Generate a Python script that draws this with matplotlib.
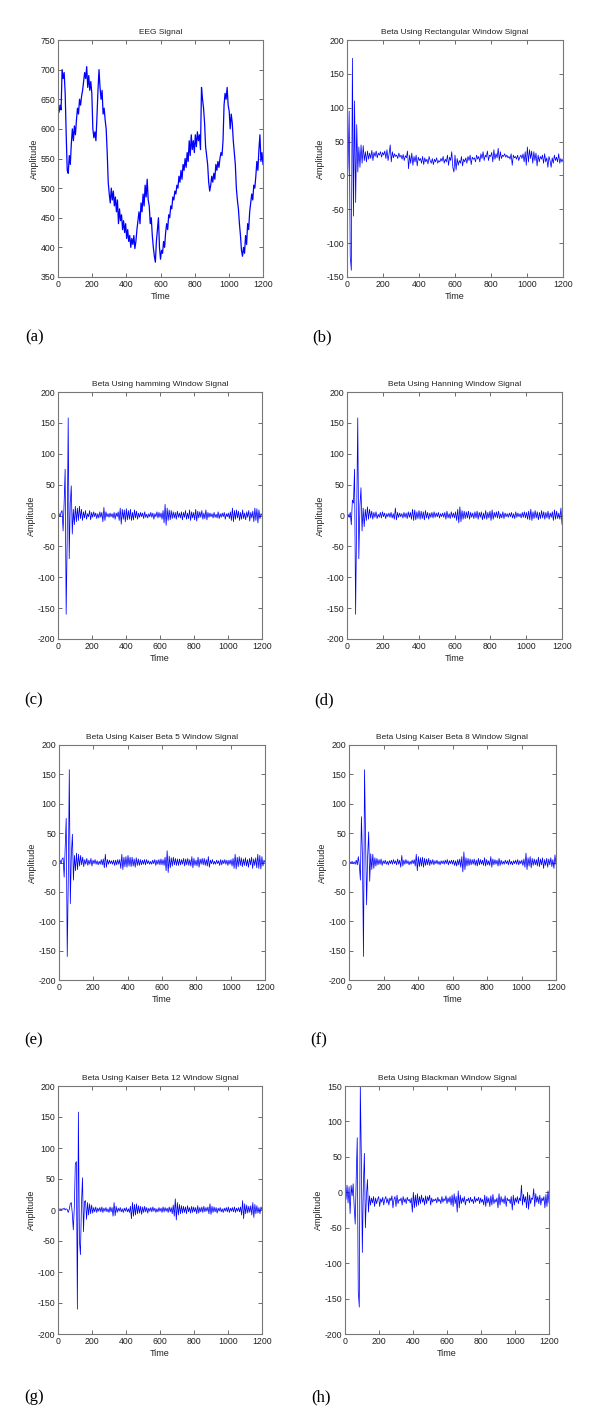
import numpy as np
import matplotlib
matplotlib.use('Agg')
import matplotlib.pyplot as plt

# ------  signal samples (every 6th time step)  ------
eeg = [635, 628, 640, 632, 700, 685, 695, 660, 590, 530, 525, 555, 540, 575, 600, 580, 605, 590, 615, 635,
       625, 650, 640, 655, 665, 680, 695, 685, 705, 670, 690, 665, 680, 660, 600, 585, 595, 580, 620, 665,
       700, 670, 650, 665, 625, 635, 615, 600, 560, 510, 490, 475, 500, 480, 495, 470, 485, 460, 480, 440,
       465, 445, 455, 430, 445, 425, 440, 415, 430, 410, 420, 400, 415, 405, 420, 398, 410, 430, 445, 460,
       440, 475, 460, 490, 470, 505, 485, 515, 480, 470, 440, 450, 420, 400, 385, 375, 410, 430, 450, 400,
       380, 395, 390, 410, 400, 425, 440, 430, 455, 450, 470, 465, 485, 480, 495, 490, 505, 500, 520, 510,
       530, 515, 540, 530, 550, 535, 560, 545, 580, 555, 590, 565, 580, 560, 590, 570, 595, 580, 590, 565,
       670, 650, 635, 610, 570, 555, 540, 510, 495, 505, 520, 510, 525, 515, 540, 530, 545, 535, 550, 560,
       555, 580, 640, 660, 650, 670, 640, 630, 600, 625, 610, 580, 560, 540, 500, 480, 465, 440, 420, 395,
       385, 400, 390, 420, 405, 440, 430, 460, 475, 490, 480, 505, 500, 520, 545, 530, 565, 590, 545, 560,
       540]

rect = [-25, 15, 95, -120, -140, 173, -60, 110, -40, 75, 5, 42, 12, 45, 18, 44, 22, 35, 20, 36,
        24, 33, 25, 37, 22, 34, 28, 36, 26, 33, 30, 35, 27, 34, 30, 36, 25, 38, 22, 32,
        45, 20, 35, 26, 32, 28, 30, 25, 33, 27, 30, 24, 31, 22, 29, 26, 36, 10, 30, 18,
        33, 15, 28, 20, 30, 14, 27, 22, 25, 18, 28, 16, 26, 20, 24, 17, 28, 22, 18, 25,
        16, 24, 20, 26, 18, 22, 20, 25, 21, 28, 18, 24, 20, 30, 15, 27, 22, 35, 12, 5,
        30, 8, 25, 15, 22, 18, 28, 14, 24, 20, 26, 18, 28, 22, 30, 16, 27, 24, 26, 20,
        30, 24, 28, 20, 32, 25, 35, 22, 30, 27, 36, 22, 30, 28, 34, 20, 38, 24, 32, 26,
        40, 22, 35, 25, 30, 28, 32, 27, 30, 26, 28, 24, 32, 15, 30, 26, 28, 24, 30, 22,
        27, 30, 25, 32, 20, 35, 15, 42, 20, 38, 25, 36, 18, 35, 22, 33, 14, 30, 20, 28,
        24, 30, 18, 32, 20, 26, 12, 28, 22, 12, 26, 18, 30, 22, 27, 20, 32, 18, 25, 20,
        24]

hamming = [0, 3, -2, 5, 8, -25, 20, 75, -160, -40, 158, -70, 20, 48, -30, 10, -15, 15, -10, 12,
           -8, 15, -5, 10, -8, 6, -4, 8, -6, 3, -2, 8, -7, 5, -3, 6, -2, 4, -5, 3,
           -4, 6, -3, 5, -10, 13, -8, 6, -2, 3, -3, 4, -2, 3, -4, 5, -6, 4, -2, 6,
           -8, 12, -14, 10, -6, 9, -10, 11, -7, 8, -6, 10, -8, 5, -7, 9, -4, 7, -6, 4,
           -3, 5, -2, 4, -5, 6, -3, 2, -4, 3, -2, 5, -3, 4, -6, 3, -2, 6, -4, 5,
           -3, 4, -6, 8, -12, 18, -16, 12, -8, 9, -7, 8, -5, 6, -4, 5, -6, 7, -3, 4,
           -4, 6, -7, 5, -3, 8, -6, 4, -5, 9, -8, 6, -4, 5, -7, 10, -9, 7, -4, 6,
           -3, 8, -6, 4, -5, 9, -7, 5, -3, 4, -2, 3, -4, 5, -3, 2, -4, 6, -5, 3,
           -3, 4, -2, 5, -6, 3, -2, 4, -5, 6, -8, 12, -10, 8, -6, 9, -4, 7, -8, 5,
           -6, 9, -5, 4, -7, 6, -3, 8, -9, 5, -4, 7, -10, 12, -8, 11, -12, 9, -5, 3,
           0]

hanning = [0, 2, -3, 5, -15, 25, 20, 75, -160, 5, 158, -70, 15, 45, -25, 12, -18, 10, -8, 14,
           -6, 10, -4, 7, -6, 5, -3, 6, -5, 2, -3, 5, -4, 6, -2, 4, -5, 3, -2, 4,
           -3, 5, -4, 3, -6, 12, -7, 5, -3, 4, -2, 3, -4, 5, -3, 4, -5, 6, -3, 5,
           -6, 10, -8, 9, -7, 6, -5, 8, -6, 7, -5, 6, -7, 8, -4, 5, -6, 4, -3, 5,
           -4, 6, -3, 4, -2, 5, -4, 3, -2, 4, -3, 5, -6, 7, -4, 3, -5, 6, -3, 4,
           -4, 6, -8, 10, -12, 14, -10, 8, -6, 7, -5, 6, -4, 7, -6, 5, -3, 4, -5, 6,
           -4, 7, -6, 5, -3, 6, -7, 4, -5, 8, -6, 5, -4, 7, -8, 9, -6, 5, -3, 6,
           -4, 7, -5, 3, -4, 6, -5, 4, -2, 3, -3, 4, -2, 5, -4, 3, -5, 6, -3, 4,
           -2, 3, -4, 5, -3, 6, -4, 5, -6, 7, -7, 10, -8, 6, -5, 8, -4, 6, -7, 5,
           -5, 8, -4, 6, -6, 5, -4, 7, -6, 4, -3, 6, -8, 9, -6, 7, -5, 4, -6, 12,
           -14]

kaiser5 = [0, 4, -2, 6, 8, -25, 25, 75, -160, -30, 158, -70, 15, 48, -30, 12, -14, 16, -12, 14,
           -6, 12, -4, 9, -7, 5, -3, 7, -5, 4, -3, 7, -6, 4, -2, 5, -3, 3, -4, 2,
           -3, 5, -4, 6, -9, 14, -8, 5, -3, 4, -2, 3, -3, 4, -5, 4, -4, 5, -3, 5,
           -10, 14, -12, 9, -7, 10, -8, 12, -6, 9, -7, 9, -6, 6, -8, 8, -5, 6, -5, 5,
           -4, 4, -3, 5, -4, 5, -2, 3, -3, 2, -3, 4, -2, 5, -5, 4, -3, 5, -4, 6,
           -4, 5, -5, 9, -14, 20, -17, 11, -9, 8, -6, 9, -4, 7, -5, 6, -5, 6, -4, 5,
           -3, 7, -6, 6, -4, 7, -5, 5, -6, 10, -9, 7, -5, 4, -6, 9, -8, 6, -3, 7,
           -4, 7, -5, 5, -6, 10, -8, 4, -2, 5, -3, 2, -3, 4, -2, 3, -5, 5, -4, 4,
           -2, 5, -3, 4, -5, 4, -3, 5, -6, 7, -10, 14, -11, 9, -7, 10, -5, 8, -7, 6,
           -5, 8, -6, 5, -8, 7, -4, 9, -10, 6, -5, 8, -9, 14, -10, 12, -11, 10, -6, 4,
           0]

kaiser8 = [0, 1, -1, 2, -2, 1, -3, 4, -4, 10, -5, -30, 78, 10, -160, 158, 40, -72, 10, 52,
           -32, 15, -12, 14, -10, 8, -6, 7, -4, 5, -3, 6, -5, 3, -2, 4, -3, 2, -4, 3,
           -2, 4, -3, 5, -2, 3, -4, 6, -3, 4, -8, 12, -6, 4, -3, 5, -2, 3, -4, 2,
           -3, 4, -2, 5, -6, 14, -14, 10, -7, 8, -6, 9, -8, 7, -5, 6, -4, 7, -5, 4,
           -3, 5, -4, 3, -2, 4, -3, 2, -4, 3, -2, 3, -3, 4, -2, 5, -4, 3, -2, 4,
           -3, 4, -5, 3, -6, 5, -4, 6, -8, 10, -16, 18, -12, 8, -6, 7, -5, 6, -4, 5,
           -3, 6, -5, 4, -6, 7, -4, 5, -3, 4, -5, 8, -6, 5, -4, 3, -5, 10, -8, 6,
           -4, 5, -3, 4, -6, 7, -5, 4, -3, 2, -3, 4, -2, 3, -4, 5, -3, 2, -4, 3,
           -2, 4, -3, 5, -4, 3, -2, 4, -5, 6, -8, 16, -12, 8, -6, 10, -9, 7, -5, 6,
           -4, 5, -6, 9, -7, 6, -4, 8, -10, 5, -5, 7, -8, 6, -4, 8, -7, 5, -10, 13,
           -3]

kaiser12 = [2, 1, 2, 0, 2, 1, 3, 0, 2, 1, -4, 1, 10, 12, -5, -32, 5, 75, 78, -160,
            158, -50, -72, 10, 52, -35, 14, 15, -15, 12, -8, 10, -6, 8, -5, 4, -3, 5, -4, 3,
            -2, 4, -3, 5, -4, 3, -2, 4, -3, 2, -4, 5, -3, 4, -10, 12, -9, 6, -4, 3,
            -2, 4, -3, 2, -4, 3, -2, 4, -3, 2, -4, 6, -14, 12, -10, 9, -8, 10, -6, 7,
            -5, 6, -7, 5, -4, 6, -3, 4, -5, 3, -2, 4, -3, 5, -2, 3, -4, 2, -3, 4,
            -2, 3, -4, 5, -3, 4, -2, 3, -4, 5, -3, 4, -6, 8, -10, 18, -16, 12, -8, 9,
            -6, 7, -5, 6, -4, 5, -6, 7, -3, 4, -5, 6, -4, 5, -3, 4, -6, 7, -5, 4,
            -3, 5, -4, 6, -3, 4, -2, 5, -6, 10, -7, 6, -4, 5, -3, 4, -5, 3, -2, 4,
            -3, 2, -4, 3, -2, 4, -3, 5, -4, 3, -2, 4, -3, 5, -4, 3, -2, 4, -3, 5,
            -8, 15, -14, 10, -6, 8, -5, 6, -4, 7, -8, 12, -12, 9, -6, 7, -5, 4, -6, 5,
            0]

blackman = [5, -10, 10, -15, 8, -30, 10, -5, 12, -20, -45, 20, 77, -140, -162, 150, 50, -85, 10, 55,
            -50, -5, 18, -28, -5, -18, -8, -15, -6, -20, -8, -16, -10, -6, -20, -9, -14, -7, -18, -10,
            -6, -15, -9, -18, -8, -12, -5, -22, -10, -6, -20, -4, -16, -10, -12, -8, -18, -6, -14, -9,
            -16, -7, -12, -10, -15, -8, -28, 0, -22, -4, -20, -2, -18, -6, -16, -4, -14, -8, -18, -5,
            -16, -6, -12, -4, -18, -8, -14, -10, -12, -9, -15, -7, -13, -10, -16, -6, -14, -9, -12, -5,
            -16, -8, -14, -6, -18, -4, -20, -2, -16, -6, -28, 2, -22, -4, -16, -8, -14, -6, -18, -10,
            -12, -8, -15, -7, -13, -10, -16, -6, -14, -9, -12, -7, -16, -8, -14, -10, -18, -4, -20, -6,
            -15, -8, -20, -5, -18, -3, -16, -10, -14, -8, -22, -2, -18, -6, -14, -9, -16, -5, -20, -8,
            -12, -10, -16, -6, -25, -4, -18, -8, -14, -6, -16, -8, -12, 10, -18, -3, -14, -6, -22, 0,
            -24, -4, -16, -8, -10, 5, -20, -2, -14, -6, -16, -4, -18, -8, -12, -6, -22, -3, -20, 2,
            -15]

titles = ['EEG Signal', 'Beta Using Rectangular Window Signal',
          'Beta Using hamming Window Signal', 'Beta Using Hanning Window Signal',
          'Beta Using Kaiser Beta 5 Window Signal', 'Beta Using Kaiser Beta 8 Window Signal',
          'Beta Using Kaiser Beta 12 Window Signal', 'Beta Using Blackman Window Signal']
captions = ['(a)', '(b)', '(c)', '(d)', '(e)', '(f)', '(g)', '(h)']
signals = [eeg, rect, hamming, hanning, kaiser5, kaiser8, kaiser12, blackman]
ylims = [(350, 750), (-150, 200), (-200, 200), (-200, 200),
         (-200, 200), (-200, 200), (-200, 200), (-200, 150)]

W, H = 600, 1425
# axes boxes in pixels: left, right, top, bottom
boxes = [(58, 263, 40, 277), (347, 563, 40, 277),
         (58, 262, 392, 639), (347, 562, 392, 639),
         (59, 265, 745, 980), (349, 556, 745, 980),
         (58, 262, 1086, 1334), (345, 549, 1086, 1334)]
cap_pos = [(25, 337), (312, 337), (24, 700), (314, 700),
           (24, 1040), (310, 1040), (24, 1397), (311, 1397)]

plt.rcParams['font.family'] = ['Liberation Sans', 'DejaVu Sans']
plt.rcParams['axes.unicode_minus'] = False
fig = plt.figure(figsize=(W / 100, H / 100), dpi=100)
fig.patch.set_facecolor('white')

for k in range(8):
    l, r, t, b = boxes[k]
    ax = fig.add_axes([l / W, 1 - b / H, (r - l) / W, (b - t) / H])
    y = np.array(signals[k], dtype=float)
    x = np.linspace(0, 1200, len(y))
    ax.plot(x, y, color='#0000ff', lw=0.9 if k == 0 else 0.55)
    ax.set_xlim(0, 1200)
    ax.set_ylim(*ylims[k])
    ax.set_xticks(range(0, 1201, 200))
    lo, hi = ylims[k]
    ax.set_yticks(range(lo, hi + 1, 50))
    ax.tick_params(direction='in', length=3, width=0.6, top=True, right=True,
                   labelsize=6.3, colors='#555555', labelcolor='#222222', pad=2)
    for s in ax.spines.values():
        s.set_color('#777777')
        s.set_linewidth(0.8)
    ax.set_title(titles[k], fontsize=6, color='#222222', pad=4)
    ax.set_xlabel('Time', fontsize=6.5, color='#222222', labelpad=2)
    ax.set_ylabel('Amplitude', fontsize=6.5, color='#222222', labelpad=1)
    cx, cy = cap_pos[k]
    fig.text(cx / W, 1 - cy / H, captions[k], fontsize=12, family='Liberation Serif',
             ha='left', va='center', color='black')

fig.savefig('out.png', dpi=100)
